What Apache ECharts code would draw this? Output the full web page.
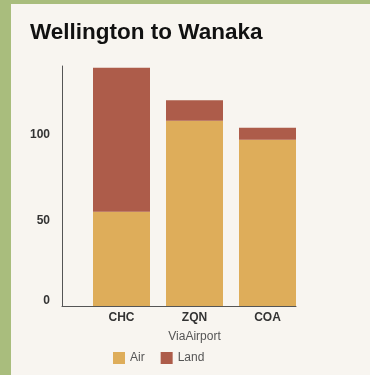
<!DOCTYPE html>
<html>
<head>
<meta charset="utf-8">
<script src="https://cdn.jsdelivr.net/npm/echarts@6/dist/echarts.min.js"></script>
<style>
  html, body { margin: 0; padding: 0; }
  #frame { position: relative; width: 370px; height: 375px; background: #A9BD7D; overflow: hidden; }
  #chart { position: absolute; left: 11px; top: 4px; width: 359px; height: 371px; background: #F8F5F0; }
</style>
</head>
<body>
<div id="frame"><div id="chart"></div></div>
<script>
// Travel options from Wellington to Wanaka, split by leg type
const airports = ['CHC', 'ZQN', 'COA'];
const airValues = [55, 108, 97];
const landValues = [84, 12, 7];
const yTicks = [0, 50, 100];

const FONT = '"Liberation Sans", Arial, Helvetica, sans-serif';
const AIR = '#DEAD5A';
const LAND = '#AD5C4A';
const AXIS = '#555';

const chart = echarts.init(document.getElementById('chart'), null, { renderer: 'canvas' });

chart.setOption({
  animation: false,
  backgroundColor: 'transparent',
  title: {
    text: 'Wellington to Wanaka',
    left: 19,
    top: 17,
    padding: 0,
    textStyle: { fontFamily: FONT, fontSize: 22.5, fontWeight: 'bold', color: '#111' }
  },
  legend: {
    data: ['Air', 'Land'],
    left: 102,
    top: 348,
    padding: 0,
    itemWidth: 12,
    itemHeight: 12,
    itemGap: 16,
    icon: 'rect',
    textStyle: { fontFamily: FONT, fontSize: 12, color: '#555' }
  },
  grid: [
    // frame grid: carries the visible y axis and the baseline
    { left: 51, width: 234, top: 62, height: 240 },
    // bar grid: category bands for the airports
    { left: 74, width: 219, top: 62, height: 240 }
  ],
  xAxis: [
    {
      gridIndex: 0, type: 'value', min: 0, max: 1,
      axisLine: { show: true, lineStyle: { color: AXIS, width: 1 } },
      axisTick: { show: false }, axisLabel: { show: false }, splitLine: { show: false }
    },
    {
      gridIndex: 1, type: 'category', data: airports,
      name: 'ViaAirport', nameLocation: 'middle', nameGap: 25,
      nameTextStyle: { fontFamily: FONT, fontSize: 12, color: '#555' },
      axisLine: { show: false }, axisTick: { show: false },
      axisLabel: { margin: 6, fontFamily: FONT, fontSize: 12, fontWeight: 'bold', color: '#333' }
    }
  ],
  yAxis: [
    {
      gridIndex: 0, type: 'value', min: 0, max: 140, interval: 50,
      axisLine: { show: true, lineStyle: { color: AXIS, width: 1 } },
      axisTick: { show: false }, splitLine: { show: false },
      axisLabel: {
        margin: 12, fontFamily: FONT, fontSize: 12, fontWeight: 'bold', color: '#333',
        formatter: v => yTicks.includes(v) ? (v === 0 ? '{zero|0}' : String(v)) : '',
        rich: {
          zero: { fontFamily: FONT, fontSize: 12, fontWeight: 'bold', color: '#333', padding: [0, 0, 10, 0] }
        }
      }
    },
    {
      gridIndex: 1, type: 'value', min: 0, max: 140, show: false,
      splitLine: { show: false }
    }
  ],
  series: [
    {
      name: 'Air', type: 'bar', stack: 'total', xAxisIndex: 1, yAxisIndex: 1,
      barWidth: 57, itemStyle: { color: AIR }, data: airValues
    },
    {
      name: 'Land', type: 'bar', stack: 'total', xAxisIndex: 1, yAxisIndex: 1,
      barWidth: 57, itemStyle: { color: LAND }, data: landValues
    }
  ]
});
</script>
</body>
</html>
